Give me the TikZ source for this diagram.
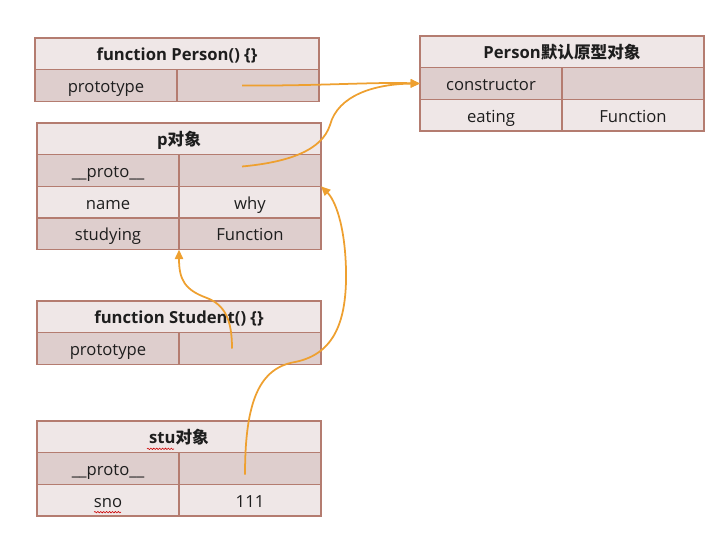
\documentclass[tikz,border=0pt]{standalone}
\usepackage{fontspec}
\setmainfont{Open Sans}
\newfontfamily\cjk{Noto Sans CJK SC}
\usetikzlibrary{arrows.meta,calc,decorations.pathmorphing}
\definecolor{cellline}{RGB}{180,124,112}
\definecolor{lightrow}{RGB}{239,231,231}
\definecolor{darkrow}{RGB}{222,206,205}
\definecolor{link}{RGB}{238,160,48}
\definecolor{ink}{RGB}{30,30,30}

\tikzset{
  cell/.style={draw=cellline, line width=1.1pt, inner sep=0pt, outer sep=0pt,
    minimum height=0.95cm, text height=12.8pt, text depth=0.6pt,
    text=ink, font=\fontsize{14.2}{17}\selectfont},
  hdr/.style={cell, fill=lightrow, minimum width=8.52cm, anchor=north west,
    font=\fontsize{14.2}{17}\selectfont\bfseries},
  field/.style={cell, fill=#1, minimum width=4.26cm, anchor=north west},
  link/.style={draw=link, line width=1.5pt, -{Triangle[length=8pt,width=7pt]}},
  typo/.style={draw=red!80!black, line width=0.5pt,
    decorate, decoration={snake, amplitude=0.6pt, segment length=2.5pt}}
}

\begin{document}
\begin{tikzpicture}[x=0.03cm, y=-0.03cm]
	\useasboundingbox (0,0) rectangle (728,534);

	% Person()
	\node[hdr] (fn) at (35,38) {function Person() \{\}};
	\node[field=darkrow] (fn-k1) at (fn.south west) {prototype};
	\node[field=darkrow] (fn-v1) at (fn-k1.north east) {};

	% Person prototype
	\node[hdr] (pp) at (420,36) {Person{\cjk\bfseries 默认原型对象}};
	\node[field=darkrow] (pp-k1) at (pp.south west) {constructor};
	\node[field=darkrow] (pp-v1) at (pp-k1.north east) {};
	\node[field=lightrow] (pp-k2) at (pp-k1.south west) {eating};
	\node[field=lightrow] (pp-v2) at (pp-k2.north east) {Function};

	% p
	\node[hdr] (p) at (37,123) {p{\cjk\bfseries 对象}};
	\node[field=darkrow] (p-k1) at (p.south west) {\_\_proto\_\_};
	\node[field=darkrow] (p-v1) at (p-k1.north east) {};
	\node[field=lightrow] (p-k2) at (p-k1.south west) {name};
	\node[field=lightrow] (p-v2) at (p-k2.north east) {why};
	\node[field=darkrow] (p-k3) at (p-k2.south west) {studying};
	\node[field=darkrow] (p-v3) at (p-k3.north east) {Function};

	% Student()
	\node[hdr] (fs) at (37,301) {function Student() \{\}};
	\node[field=darkrow] (fs-k1) at (fs.south west) {prototype};
	\node[field=darkrow] (fs-v1) at (fs-k1.north east) {};

	% stu
	\node[hdr] (stu) at (37,421) {stu{\cjk\bfseries 对象}};
	\node[field=darkrow] (stu-k1) at (stu.south west) {\_\_proto\_\_};
	\node[field=darkrow] (stu-v1) at (stu-k1.north east) {};
	\node[field=lightrow] (stu-k2) at (stu-k1.south west) {sno};
	\node[field=lightrow] (stu-v2) at (stu-k2.north east) {111};

	% spell-check marks
	\draw[typo] ($(stu.center)+(-32,12)$) -- ($(stu.center)+(-5,12)$);
	\draw[typo] ($(stu-k2.center)+(-14,12)$) -- ($(stu-k2.center)+(13,12)$);

	% prototype links
	\draw[link] ($(fn-v1.center)+(-6,0)$) .. controls (320,86) and (370,82) .. (pp-k1.west);
	\draw[link] ($(p-v1.center)+(-8,-4)$) .. controls (290,162) and (322,150) .. (330,125)
		.. controls (338,95) and (375,84) .. (pp-k1.west);
	% __proto__ links
	\draw[link] ($(fs-v1.center)+(-18,0)$) .. controls (232,320) and (225,305) .. (207,298)
		.. controls (185,290) and (179,280) .. (p-k3.south east);
	\draw[link] ($(stu-v1.center)+(-5,6)$) .. controls (245,400) and (260,368) .. (295,362)
		.. controls (335,354) and (347,320) .. (346,270)
		.. controls (345,225) and (335,200) .. (p-v1.south east);
\end{tikzpicture}
\end{document}
